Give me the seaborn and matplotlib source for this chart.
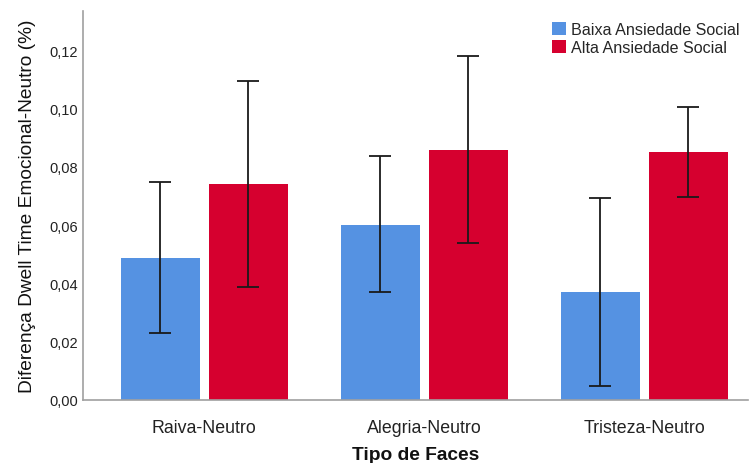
import matplotlib
matplotlib.use("Agg")
import matplotlib.pyplot as plt
import seaborn as sns
import pandas as pd
import numpy as np
from matplotlib.ticker import FuncFormatter

# valores
faces = ["Raiva-Neutro", "Alegria-Neutro", "Tristeza-Neutro"]
grupos = ["Baixa Ansiedade Social", "Alta Ansiedade Social"]
media_baixa = [0.0487, 0.0600, 0.0370]
media_alta = [0.0740, 0.0857, 0.0850]
ic_inf_baixa = [0.0230, 0.0370, 0.0048]
ic_sup_baixa = [0.0747, 0.0836, 0.0692]
ic_inf_alta = [0.0387, 0.0538, 0.0696]
ic_sup_alta = [0.1094, 0.1179, 0.1004]

cores = ["#5592e2", "#d6002f"]

df = pd.DataFrame({
    "Face": faces * 2,
    "Grupo": [grupos[0]] * 3 + [grupos[1]] * 3,
    "Media": media_baixa + media_alta,
    "Inf": ic_inf_baixa + ic_inf_alta,
    "Sup": ic_sup_baixa + ic_sup_alta,
})

sns.set_style("white")
plt.rcParams["font.family"] = ["Liberation Sans", "DejaVu Sans"]

fig = plt.figure(figsize=(7.5, 4.64), dpi=100)
ax = fig.add_axes([0.111, 0.136, 0.886, 0.838])

sns.barplot(data=df, x="Face", y="Media", hue="Grupo", hue_order=grupos,
            palette=cores, width=0.8, gap=0.1, errorbar=None, ax=ax,
            saturation=1, linewidth=0)

# barras de erro nas posições das barras
for cont, g in zip(ax.containers, grupos):
    sub = df[df["Grupo"] == g].set_index("Face").loc[faces]
    xs = [p.get_x() + p.get_width() / 2 for p in cont.patches]
    m = sub["Media"].values
    yerr = np.vstack([m - sub["Inf"].values, sub["Sup"].values - m])
    ax.errorbar(xs, m, yerr=yerr, fmt="none", ecolor="#1a1a1a",
                elinewidth=1.3, capsize=8, capthick=1.3)

ax.set_xlim(-0.55, 2.47)
ax.set_ylim(0, 0.1334)
ax.set_yticks([0, 0.02, 0.04, 0.06, 0.08, 0.10, 0.12])
ax.yaxis.set_major_formatter(FuncFormatter(lambda v, p: f"{v:.2f}".replace(".", ",")))
ax.tick_params(axis="both", length=0, colors="#222222")
ax.tick_params(axis="y", pad=4, labelsize=10.5)
ax.tick_params(axis="x", pad=14, labelsize=12.8)

for s in ["top", "right"]:
    ax.spines[s].set_visible(False)
for s in ["left", "bottom"]:
    ax.spines[s].set_color("#a0a0a0")
    ax.spines[s].set_linewidth(1.2)

ax.set_ylabel("Diferença Dwell Time Emocional-Neutro (%)", fontsize=13.8, color="#111111", labelpad=9.5)
ax.set_xlabel("Tipo de Faces", fontsize=13.8, fontweight="bold", color="#111111", labelpad=7)

ax.legend(loc="upper right", bbox_to_anchor=(1.005, 1.0), frameon=False, fontsize=11.6,
          handlelength=0.85, handleheight=0.85, handletextpad=0.35, labelspacing=0.15,
          borderaxespad=0.3)

plt.savefig("out.png", dpi=100)
